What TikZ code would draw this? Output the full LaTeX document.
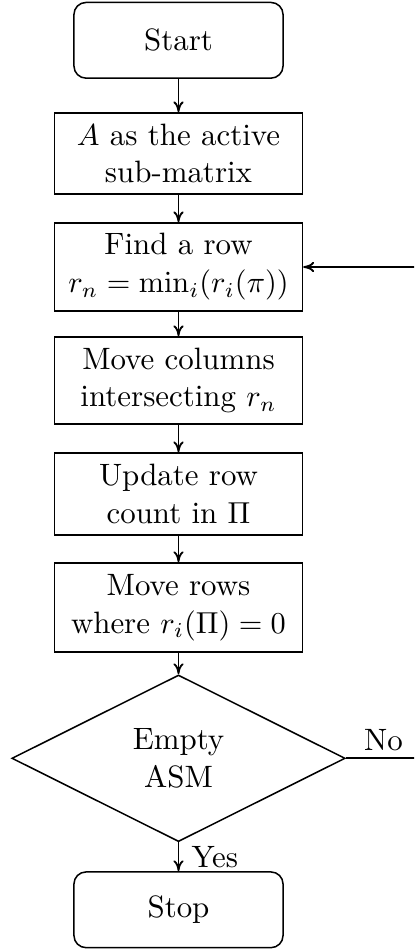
\documentclass[tikz,border=0pt]{standalone}
\usetikzlibrary{shapes.geometric,arrows.meta}
\begin{document}
\begin{tikzpicture}[x=0.33pt,y=-0.33pt,
  every node/.style={inner sep=0pt,align=center,font=\fontsize{10.2pt}{12.5pt}\selectfont},
  term/.style={draw,rounded corners=4pt,minimum width=69pt,minimum height=25pt,line width=0.5pt},
  proc/.style={draw,minimum width=81.8pt,line width=0.5pt},
  dec/.style={draw,diamond,aspect=2,minimum width=110pt,minimum height=55pt,line width=0.5pt},
  conn/.style={-{Computer Modern Rightarrow[length=3.6pt,width=3.4pt]},line width=0.6pt},
  lbl/.style={inner sep=0pt}]
\useasboundingbox (0,0) rectangle (414,949);
\clip (0,0) rectangle (414,949);
\node[term] (start) at (178.5,40.3) {Start};
\node[proc,minimum height=26.7pt] (asm) at (178.5,153.5) {$A$ as the active\\sub-matrix};
\node[proc,minimum height=29pt] (find) at (178.5,267) {Find a row\\$r_n=\min_i(r_i(\pi))$};
\node[proc,minimum height=28.7pt] (movec) at (178.5,380.5) {Move columns\\intersecting $r_n$};
\node[proc,minimum height=27pt] (upd) at (178.5,494) {Update row\\count in $\Pi$};
\node[proc,minimum height=29.4pt] (mover) at (178.5,607.5) {Move rows\\where $r_i(\Pi)=0$};
\node[dec] (empty) at (178.5,758.3) {Empty\\ASM};
\node[term] (stop) at (178.5,909.8) {Stop};
\coordinate (loopd) at (440,758.3);
\coordinate (loopu) at (440,267);
\draw[conn] (start) -- (asm);
\draw[conn] (asm) -- (find);
\draw[conn] (find) -- (movec);
\draw[conn] (movec) -- (upd);
\draw[conn] (upd) -- (mover);
\draw[conn] (mover) -- (empty);
\draw[conn] (empty) -- node[lbl,anchor=west,xshift=4pt] (yes) {Yes} (stop);
\draw[conn] (empty.east) -- node[lbl,anchor=south,pos=0.4,yshift=2pt] (no) {No} (loopd) -- (loopu) -- (find.east);
\end{tikzpicture}
\end{document}
